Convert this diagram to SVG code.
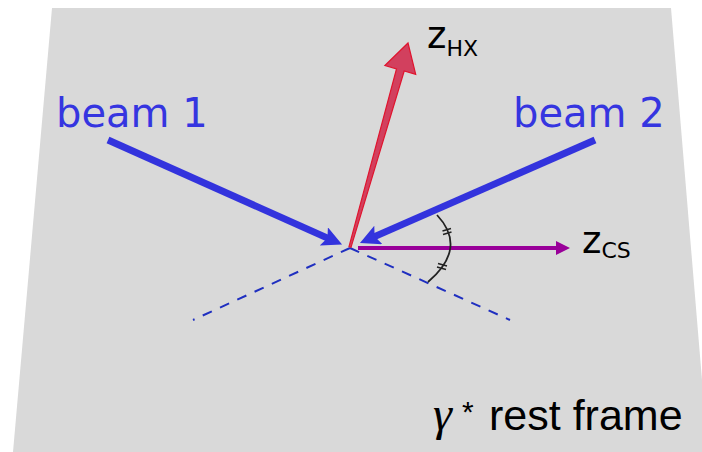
<svg xmlns="http://www.w3.org/2000/svg" width="702" height="452" viewBox="0 0 702 452">
<style>
.beam{stroke:#3333dd;stroke-width:7;fill:none}
.blbl{font-family:"DejaVu Sans",Verdana,sans-serif;font-size:40px;fill:#3535e0}
.axl{font-family:"DejaVu Sans",Verdana,sans-serif;fill:#000}
.dash{stroke:#1f2fc0;stroke-width:2;stroke-dasharray:10 9;fill:none}
</style>
<defs>
<marker id="bh" markerUnits="userSpaceOnUse" markerWidth="22" markerHeight="22" refX="6" refY="10" orient="auto"><path d="M0,0 L20,10 L0,20 L4,10 z" fill="#3333dd"/></marker>
<marker id="ph" markerUnits="userSpaceOnUse" markerWidth="16" markerHeight="16" refX="4" refY="7" orient="auto"><path d="M0,0 L14,7 L0,14 z" fill="#990099"/></marker>
</defs>
<rect width="702" height="452" fill="#fff"/>
<polygon id="frame" points="52,8 671,8 708,452 13,452" fill="#d9d9d9"/>
<g id="connectors">
<line class="dash" x1="350" y1="248" x2="193" y2="320"/>
<line class="dash" x1="350" y1="248" x2="510" y2="320"/>
<line class="beam" x1="108" y1="140" x2="329.3" y2="238.9" marker-end="url(#bh)"/>
<line class="beam" x1="595" y1="140" x2="372.8" y2="237.4" marker-end="url(#bh)"/>
<line x1="358" y1="248" x2="560" y2="248" stroke="#990099" stroke-width="4" marker-end="url(#ph)"/>
<polygon points="349,246.7 396.5,68.8 384.9,65.5 408,43 415.7,74.3 404.2,71 351,247.3" fill="#d2405e" stroke="#e0142e" stroke-width="1.2" stroke-linejoin="miter"/>
<path d="M437,215 Q468,248 428,282" fill="none" stroke="#222" stroke-width="1.8"/>
<path d="M442.5,231 L451,228.5 M443,234.5 L451.5,232 M438,263.5 L447,266 M437,267 L446,269.5" stroke="#222" stroke-width="1.5" fill="none"/>
</g>
<g id="beam1"><text class="blbl" x="56" y="127">beam 1</text></g>
<g id="beam2"><text class="blbl" x="513" y="127">beam 2</text></g>
<g id="zhx"><text class="axl" x="427" y="48" font-size="37">z<tspan font-size="22" dy="8">HX</tspan></text></g>
<g id="zcs"><text class="axl" x="582" y="253" font-size="37">z<tspan font-size="22" dy="5">CS</tspan></text></g>
<g id="frame-label"><text y="430" font-family="'Liberation Sans',Arial,sans-serif" font-size="43" fill="#000"><tspan x="433" font-size="48" font-family="'Liberation Serif','DejaVu Serif',serif" font-style="italic">γ</tspan><tspan x="462" font-size="30" dy="-8">*</tspan><tspan x="489" dy="8">rest frame</tspan></text></g>
</svg>
